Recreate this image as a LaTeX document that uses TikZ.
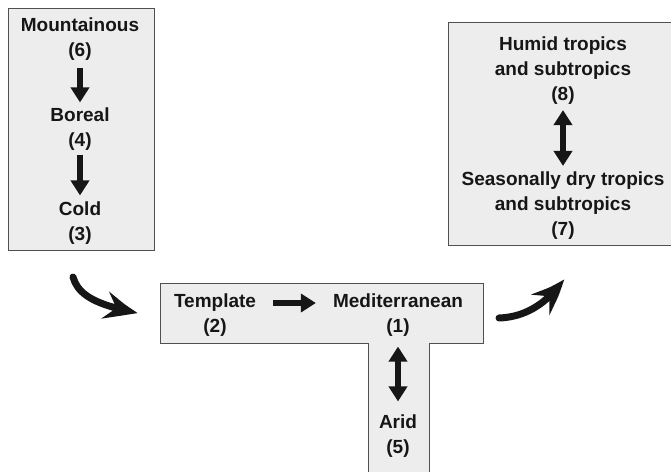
\documentclass[tikz,border=0pt]{standalone}
\usepackage{fontspec}
\setmainfont{Liberation Sans}
\usetikzlibrary{arrows.meta,bending}
\definecolor{panelfill}{RGB}{237, 237, 237}
\definecolor{panelline}{RGB}{80, 80, 80}
\definecolor{ink}{RGB}{22, 22, 22}

\begin{document}
\begin{tikzpicture}[
        x=1pt, y=-1pt,
        panel/.style={fill=panelfill, draw=panelline, line width=1pt},
        every node/.style={
            align=center,
            inner sep=0pt,
            text=ink,
            font=\fontsize{19}{25}\selectfont\bfseries
        },
        flow/.style={
            line width=5.5pt, draw=ink,
            -{Triangle[length=15pt,width=18pt]}
        },
        both/.style={
            line width=5.5pt, draw=ink,
            {Triangle[length=15pt,width=18pt]}-{Triangle[length=15pt,width=18pt]}
        },
        swoosh/.style={
            line width=7pt, draw=ink, line cap=round,
            -{Stealth[length=36pt,width=27pt,inset=13pt,bend]}
        }
    ]
    \useasboundingbox (0,0) rectangle (671,471);

    % panels
    \draw[panel] (8,8) rectangle (154,250);
    \draw[panel] (448,22) rectangle (680,245);
    \draw[panel] (160,283) -- (483,283) -- (483,343) -- (429,343)
        -- (429,480) -- (368,480) -- (368,343) -- (160,343) -- cycle;

    % left column
    \node (mount) at (80,39) {Mountainous\\(6)};
    \node (boreal) at (80,129) {Boreal\\(4)};
    \node (cold) at (80,223) {Cold\\(3)};

    % right panel
    \node (humid) at (563,71) {Humid tropics\\and subtropics\\(8)};
    \node (seasonal) at (563,206) {Seasonally dry tropics\\and subtropics\\(7)};

    % T shape
    \node (template) at (215,315) {Template\\(2)};
    \node (medit) at (398,315) {Mediterranean\\(1)};
    \node (arid) at (398,436) {Arid\\(5)};

    \coordinate (inA) at (73,277);
    \coordinate (inB) at (138,313);
    \coordinate (outA) at (499,318);
    \coordinate (outB) at (564,279);

    \draw[flow, shorten <=7pt, shorten >=5pt] (mount) -- (boreal);
    \draw[flow, shorten <=4pt, shorten >=6pt] (boreal) -- (cold);
    \draw[both, shorten <=5pt, shorten >=6pt] (humid) -- (seasonal);
    \draw[flow, shorten <=17pt, shorten >=17pt]
        ([yshift=12pt]template.east) -- ([yshift=12pt]medit.west);
    \draw[both, shorten <=10pt, shorten >=13pt] (medit) -- (arid);

    \draw[swoosh] (inA) .. controls (78,295) and (96,305) .. (inB);
    \draw[swoosh] (outA) .. controls (527,317) and (548,302) .. (outB);
\end{tikzpicture}
\end{document}
